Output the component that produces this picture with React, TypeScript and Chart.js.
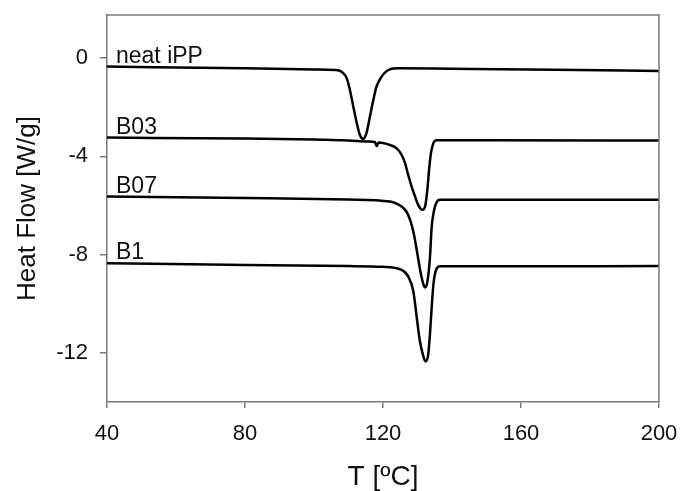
import React, { useEffect, useRef } from "react";
import { Chart, registerables } from "chart.js";

Chart.register(...registerables);

// Temperature [°C] and heat flow [W/g]
const neatT = [40, 80, 100, 106, 108, 109.5, 110.4, 111.4, 112.4, 113.3, 114.3, 115.2, 116.2, 117.2, 118.1, 119.6, 121.5, 123.9, 140, 170, 200];
const neatHF = [-0.35, -0.42, -0.47, -0.49, -0.56, -0.83, -1.3, -1.98, -2.65, -3.13, -3.29, -3.06, -2.39, -1.71, -1.17, -0.76, -0.49, -0.42, -0.44, -0.48, -0.53];

const b03T = [40, 80, 100, 110, 116, 117.6, 118.2, 118.7, 120, 122, 123.9, 125.4, 126.4, 127.3, 128.3, 129.3, 130.2, 131.4, 132.3, 132.9, 133.4, 133.9, 134.6, 135.5, 150, 200];
const b03HF = [-3.24, -3.28, -3.32, -3.36, -3.4, -3.42, -3.58, -3.44, -3.46, -3.54, -3.67, -3.94, -4.28, -4.76, -5.23, -5.64, -5.98, -6.18, -5.98, -5.3, -4.48, -3.87, -3.47, -3.35, -3.35, -3.36];

const b07T = [40, 80, 110, 122, 124.4, 126, 127, 128, 129, 130, 131, 131.8, 132.2, 132.8, 133.6, 134.1, 134.8, 135.5, 136.5, 150, 200];
const b07HF = [-5.64, -5.7, -5.76, -5.84, -5.96, -6.12, -6.3, -6.65, -7.2, -8.0, -8.8, -9.25, -9.34, -9.16, -8.14, -6.9, -6.2, -5.88, -5.77, -5.77, -5.77];

const b1T = [40, 80, 110, 120, 125.4, 127.3, 128.8, 129.8, 130.7, 131.7, 132.3, 133.1, 133.6, 134.1, 134.6, 135.4, 136.5, 150, 200];
const b1HF = [-8.35, -8.42, -8.47, -8.5, -8.62, -8.89, -9.5, -10.58, -11.53, -12.14, -12.35, -12.07, -11.26, -10.18, -9.23, -8.62, -8.48, -8.48, -8.47];

const seriesNames = ["neat iPP", "B03", "B07", "B1"];
const seriesT = [neatT, b03T, b07T, b1T];
const seriesHF = [neatHF, b03HF, b07HF, b1HF];

const xTicks = [40, 80, 120, 160, 200];
const yTicks = [0, -4, -8, -12];

const FONT = "'Liberation Sans', Arial, Helvetica, sans-serif";

const framePlugin = {
  id: "frameAndLabels",
  afterDatasetsDraw(chart: any) {
    const { ctx, chartArea, scales } = chart;
    ctx.save();
    ctx.strokeStyle = "#7a7a7a";
    ctx.lineWidth = 1.5;
    ctx.beginPath();
    ctx.moveTo(chartArea.left, chartArea.top);
    ctx.lineTo(chartArea.right, chartArea.top);
    ctx.lineTo(chartArea.right, chartArea.bottom);
    ctx.stroke();
    ctx.fillStyle = "#111";
    ctx.font = `23px ${FONT}`;
    ctx.textAlign = "left";
    ctx.textBaseline = "alphabetic";
    chart.data.datasets.forEach((ds: any) => {
      const p = ds.data[0];
      const x = scales.x.getPixelForValue(p.x) + 9;
      const y = scales.y.getPixelForValue(p.y) - 4;
      ctx.fillText(ds.label, x, y);
    });
    ctx.restore();
  },
};

export default function App() {
  const ref = useRef<HTMLCanvasElement | null>(null);

  useEffect(() => {
    if (!ref.current) return;
    const datasets = seriesNames.map((name, i) => ({
      label: name,
      data: seriesT[i].map((t, j) => ({ x: t, y: seriesHF[i][j] })),
      borderColor: "#000",
      borderWidth: 2.5,
      pointRadius: 0,
      fill: false,
      cubicInterpolationMode: "monotone" as const,
    }));

    const chart = new Chart(ref.current, {
      type: "line",
      data: { datasets },
      options: {
        animation: false,
        responsive: false,
        layout: { padding: { top: 15, right: 22, left: 0, bottom: 0 } },
        plugins: { legend: { display: false }, tooltip: { enabled: false } },
        scales: {
          x: {
            type: "linear",
            min: 40,
            max: 200,
            afterFit: (s: any) => {
              s.height = 89;
              s.paddingLeft = 0;
              s.paddingRight = 0;
            },
            afterBuildTicks: (s: any) => {
              s.ticks = xTicks.map((v) => ({ value: v }));
            },
            grid: { drawOnChartArea: false, drawTicks: true, tickLength: 6, color: "#7a7a7a", lineWidth: 1.5 },
            border: { display: true, color: "#7a7a7a", width: 1.5 },
            ticks: { color: "#111", font: { family: FONT, size: 22 }, padding: 13, maxRotation: 0 },
            title: {
              display: true,
              text: "T [ºC]",
              color: "#111",
              font: { family: FONT, size: 28, lineHeight: 1 },
              padding: { top: 0, bottom: 0 },
            },
          },
          y: {
            type: "linear",
            min: -14,
            max: 1.75,
            afterFit: (s: any) => {
              s.width = 107;
              s.paddingTop = 0;
              s.paddingBottom = 0;
            },
            afterBuildTicks: (s: any) => {
              s.ticks = yTicks.map((v) => ({ value: v }));
            },
            grid: { drawOnChartArea: false, drawTicks: true, tickLength: 7, color: "#7a7a7a", lineWidth: 1.5 },
            border: { display: true, color: "#7a7a7a", width: 1.5 },
            ticks: { color: "#111", font: { family: FONT, size: 22 }, padding: 12 },
            title: {
              display: true,
              text: "Heat Flow [W/g]",
              color: "#111",
              font: { family: FONT, size: 26, lineHeight: 1.2 },
              padding: { top: 12, bottom: 0 },
            },
          },
        },
      },
      plugins: [framePlugin],
    });
    return () => chart.destroy();
  }, []);

  return (
    <div style={{ position: "absolute", left: 0, top: 0, width: 681, height: 491, background: "#fff" }}>
      <canvas ref={ref} width={681} height={491} style={{ display: "block" }} />
    </div>
  );
}
